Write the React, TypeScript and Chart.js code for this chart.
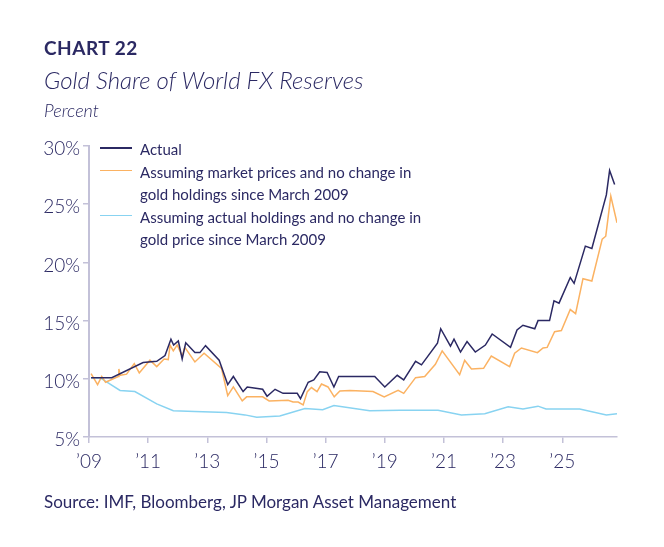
import { useEffect, useRef } from 'react';
import Chart from 'chart.js/auto';

const xTickYears = [2009, 2011, 2013, 2015, 2017, 2019, 2021, 2023, 2025];
const yTicks = [5, 10, 15, 20, 25, 30];

const seriesLabels = [
  'Actual',
  'Assuming market prices and no change in\ngold holdings since March 2009',
  'Assuming actual holdings and no change in\ngold price since March 2009',
];

const actualYears = [
  2009.07, 2009.77, 2010.83, 2011.29, 2011.57, 2011.77, 2011.86, 2012.02, 2012.15, 2012.27,
  2012.58, 2012.75, 2012.94, 2013.4, 2013.69, 2013.88, 2014.21, 2014.35, 2014.87, 2015.02,
  2015.29, 2015.56, 2016.04, 2016.15, 2016.41, 2016.6, 2016.8, 2017.05, 2017.28, 2017.44,
  2018.66, 2019.0, 2019.42, 2019.64, 2020.04, 2020.24, 2020.78, 2020.89, 2021.22, 2021.34,
  2021.56, 2021.78, 2022.06, 2022.4, 2022.63, 2023.25, 2023.47, 2023.67, 2024.07, 2024.18,
  2024.57, 2024.72, 2024.89, 2025.27, 2025.4, 2025.78, 2026.0, 2026.49, 2026.6, 2026.77,
];
const actualValues = [
  10.1, 10.1, 11.4, 11.5, 12.0, 13.4, 12.9, 13.25, 11.7, 13.1,
  12.25, 12.25, 12.85, 11.6, 9.5, 10.2, 8.9, 9.3, 9.1, 8.5,
  9.1, 8.75, 8.75, 8.3, 9.7, 9.9, 10.6, 10.55, 9.3, 10.2,
  10.2, 9.3, 10.3, 9.9, 11.5, 11.2, 13.05, 14.3, 12.8, 13.4,
  12.3, 13.2, 12.3, 12.9, 13.85, 12.7, 14.2, 14.6, 14.3, 15.0,
  15.0, 16.7, 16.5, 18.7, 18.2, 21.4, 21.2, 25.8, 27.9, 26.7,
];

const marketYears = [
  2009.07, 2009.29, 2009.43, 2009.56, 2009.99, 2010.01, 2010.05, 2010.27, 2010.53, 2010.7,
  2011.06, 2011.29, 2011.54, 2011.68, 2011.74, 2011.85, 2011.98, 2012.15, 2012.24, 2012.58,
  2012.89, 2013.48, 2013.69, 2013.88, 2014.18, 2014.33, 2014.87, 2015.09, 2015.73, 2015.9,
  2016.07, 2016.24, 2016.38, 2016.52, 2016.71, 2016.86, 2017.08, 2017.29, 2017.48, 2017.82,
  2018.6, 2018.98, 2019.45, 2019.64, 2020.04, 2020.35, 2020.71, 2020.94, 2021.53, 2021.7,
  2021.93, 2022.34, 2022.6, 2023.22, 2023.39, 2023.62, 2024.16, 2024.35, 2024.49, 2024.74,
  2024.97, 2025.27, 2025.45, 2025.7, 2026.0, 2026.35, 2026.47, 2026.64, 2026.85,
];
const marketValues = [
  10.45, 9.5, 10.2, 9.7, 10.2, 10.85, 10.3, 10.4, 11.3, 10.5,
  11.6, 11.05, 11.7, 11.65, 12.9, 12.4, 12.9, 11.95, 12.7, 11.45,
  12.2, 10.9, 8.55, 9.3, 8.1, 8.45, 8.45, 8.1, 8.15, 8.0,
  8.0, 7.75, 8.9, 9.25, 8.9, 9.55, 9.3, 8.45, 8.95, 9.0,
  8.9, 8.45, 9.0, 8.75, 10.1, 10.2, 11.25, 12.4, 10.35, 11.6,
  10.85, 10.9, 11.95, 11.05, 12.2, 12.65, 12.25, 12.65, 12.7, 14.05,
  14.15, 15.95, 15.6, 18.6, 18.4, 22.0, 22.25, 25.7, 23.4,
];

const holdingsYears = [
  2009.07, 2009.37, 2010.05, 2010.55, 2011.29, 2011.85, 2012.58, 2013.65, 2014.27, 2014.67,
  2015.45, 2016.3, 2016.9, 2017.28, 2018.49, 2019.51, 2020.8, 2021.59, 2022.38, 2023.17,
  2023.67, 2024.18, 2024.45, 2025.59, 2026.49, 2026.85,
];
const holdingsValues = [
  10.1, 10.1, 9.0, 8.9, 7.85, 7.25, 7.2, 7.1, 6.9, 6.7,
  6.8, 7.45, 7.35, 7.7, 7.25, 7.3, 7.3, 6.9, 7.0, 7.6,
  7.4, 7.65, 7.4, 7.4, 6.9, 7.0,
];

const NAVY = '#2b2963';
const ORANGE = '#fbb262';
const BLUE = '#88d3f1';
const AXIS = '#c3c1d8';
const seriesColors = [NAVY, ORANGE, BLUE];

const toPoints = (xs: number[], ys: number[]) => xs.map((x, i) => ({ x, y: ys[i] }));

const App = () => {
  const chartRef = useRef<HTMLCanvasElement | null>(null);
  const chartInstance = useRef<Chart | null>(null);

  useEffect(() => {
    if (!chartRef.current) return;
    if (chartInstance.current) chartInstance.current.destroy();

    chartInstance.current = new Chart(chartRef.current, {
      type: 'line',
      data: {
        datasets: [
          { label: seriesLabels[0], data: toPoints(actualYears, actualValues), borderColor: NAVY },
          { label: seriesLabels[1], data: toPoints(marketYears, marketValues), borderColor: ORANGE },
          { label: seriesLabels[2], data: toPoints(holdingsYears, holdingsValues), borderColor: BLUE },
        ].map((d) => ({ ...d, borderWidth: 1.5, pointRadius: 0, tension: 0, fill: false })),
      },
      options: {
        animation: false,
        responsive: true,
        maintainAspectRatio: false,
        layout: { padding: { top: 146, right: 47, bottom: 0, left: 0 } },
        plugins: {
          legend: { display: false },
          tooltip: { enabled: false },
        },
        scales: {
          x: {
            type: 'linear',
            min: 2009,
            max: 2026.85,
            afterBuildTicks: (scale: any) => {
              scale.ticks = xTickYears.map((value) => ({ value }));
            },
            afterFit: (scale: any) => {
              scale.height = 110;
            },
            ticks: {
              callback: (v: any) => '\u2019' + String(v).slice(2),
              color: NAVY,
              font: { family: 'Lato', size: 19, weight: 300 },
              padding: 7,
              maxRotation: 0,
              autoSkip: false,
            },
            grid: { drawOnChartArea: false, drawTicks: true, tickLength: 6, color: AXIS, lineWidth: 1.5 },
            border: { display: true, color: AXIS, width: 1.5 },
          },
          y: {
            min: 5,
            max: 30,
            afterBuildTicks: (scale: any) => {
              scale.ticks = yTicks.map((value) => ({ value }));
            },
            afterFit: (scale: any) => {
              scale.width = 89;
            },
            ticks: {
              callback: (v: any) => v + '%',
              color: NAVY,
              font: { family: 'Lato', size: 19, weight: 300 },
              padding: 3,
              labelOffset: 3,
            },
            grid: { drawOnChartArea: false, drawTicks: true, tickLength: 6, color: AXIS, lineWidth: 1.5 },
            border: { display: true, color: AXIS, width: 2 },
          },
        },
      },
    });
    // Cleanup
    return () => {
      chartInstance.current?.destroy();
    };
  }, []);

  return (
    <div style={{ position: 'absolute', left: 0, top: 0, width: 664, height: 547, background: '#fff', fontFamily: 'Lato', color: NAVY }}>
      <div style={{ position: 'absolute', inset: 0 }}>
        <canvas ref={chartRef} />
      </div>
      <div style={{ position: 'absolute', left: 44, top: 36, fontSize: 19, fontWeight: 700, letterSpacing: 0.5 }}>CHART 22</div>
      <div style={{ position: 'absolute', left: 44, top: 65, fontSize: 24, fontStyle: 'italic', fontWeight: 300 }}>
        Gold Share of World FX Reserves
      </div>
      <div style={{ position: 'absolute', left: 44, top: 99, fontSize: 18, fontStyle: 'italic', fontWeight: 300 }}>Percent</div>
      <div style={{ position: 'absolute', left: 100, top: 138, fontSize: 15, lineHeight: '22.5px' }}>
        {seriesLabels.map((label, i) => (
          <div key={label} style={{ position: 'relative', paddingLeft: 40, whiteSpace: 'pre-line' }}>
            <span style={{ position: 'absolute', left: 0, top: 9, width: 32, height: 1.5, background: seriesColors[i] }} />
            {label}
          </div>
        ))}
      </div>
      <div style={{ position: 'absolute', left: 44, top: 491, fontSize: 17 }}>
        Source: IMF, Bloomberg, JP Morgan Asset Management
      </div>
    </div>
  );
};

export default App;
